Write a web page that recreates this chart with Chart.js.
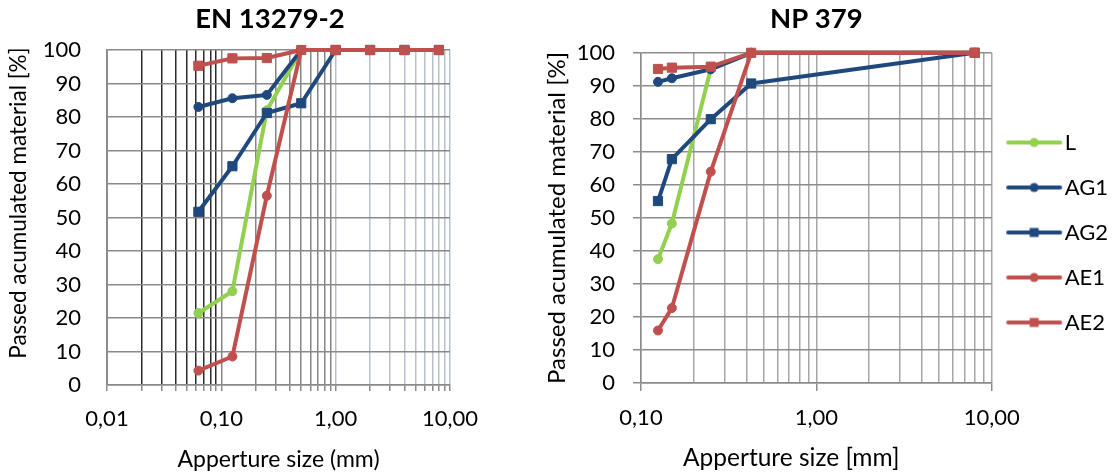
<!DOCTYPE html>
<html>
<head>
<meta charset="utf-8">
<script src="https://cdn.jsdelivr.net/npm/chart.js@4.4.1/dist/chart.umd.min.js"></script>
<style>
  html, body { margin: 0; padding: 0; background: #fff; overflow: hidden; }
  #wrap { position: relative; width: 1115px; height: 473px; }
  canvas { position: absolute; top: 0; }
  #enChart { left: 0; }
  #npChart { left: 530px; }
</style>
</head>
<body>
<div id="wrap">
  <canvas id="enChart" width="540" height="473"></canvas>
  <canvas id="npChart" width="588" height="473"></canvas>
</div>
<script>
// EN 13279-2 sieves (mm) and passed material (%)
const enSizes = [0.063, 0.125, 0.25, 0.5, 1, 2, 4, 8];
const enL   = [21.5, 28, 82, 100, 100, 100, 100, 100];
const enAG1 = [83, 85.6, 86.6, 100, 100, 100, 100, 100];
const enAG2 = [51.7, 65.3, 81.2, 84.1, 100, 100, 100, 100];
const enAE1 = [4.3, 8.5, 56.5, 100, 100, 100, 100, 100];
const enAE2 = [95.3, 97.5, 97.6, 100, 100, 100, 100, 100];

// NP 379 sieves (mm) and passed material (%)
const npSizes = [0.125, 0.15, 0.25, 0.425, 8];
const npL   = [37.5, 48.3, 95.2, 100, 100];
const npAG1 = [91.2, 92.3, 95, 100, 100];
const npAG2 = [55.1, 67.8, 79.9, 90.7, 100];
const npAE1 = [15.9, 22.7, 64, 100, 100];
const npAE2 = [95.1, 95.5, 95.8, 100, 100];

const seriesNames = ['L', 'AG1', 'AG2', 'AE1', 'AE2'];
const majorTicks = [0.01, 0.1, 1, 10];

const GREEN = '#92D050', BLUE = '#1F497D', RED = '#C0504D';
const styles = [
  { color: GREEN, point: 'circle', r: 4.5 },
  { color: BLUE,  point: 'circle', r: 4.5 },
  { color: BLUE,  point: 'rect',   r: 6.5 },
  { color: RED,   point: 'circle', r: 4.5 },
  { color: RED,   point: 'rect',   r: 6.5 }
];
const FONT = 'Lato';

function isMajor(v) {
  return majorTicks.some(m => Math.abs(m - v) < 1e-9);
}

function logGrid(min, max) {
  const vals = [];
  for (let e = Math.round(Math.log10(min)); e < Math.round(Math.log10(max)); e++) {
    for (let m = 1; m < 10; m++) vals.push(+(m * Math.pow(10, e)).toPrecision(3));
  }
  vals.push(max);
  return vals;
}

function makeDatasets(sizes, series) {
  return series.map((vals, i) => ({
    label: seriesNames[i],
    data: sizes.map((x, j) => ({ x: x, y: vals[j] })),
    borderColor: styles[i].color,
    backgroundColor: styles[i].color,
    borderWidth: 4,
    borderCapStyle: 'round',
    borderJoinStyle: 'round',
    pointStyle: styles[i].point,
    pointRadius: styles[i].r,
    pointBorderWidth: 1,
    pointBackgroundColor: styles[i].color,
    pointBorderColor: styles[i].color,
    order: series.length - i,
    clip: false,
    tension: 0
  }));
}

function legendIcon(st) {
  const c = document.createElement('canvas');
  c.width = 58; c.height = 14;
  const g = c.getContext('2d');
  g.strokeStyle = st.color; g.fillStyle = st.color;
  g.lineWidth = 4; g.lineCap = 'round';
  g.beginPath(); g.moveTo(3, 7); g.lineTo(55, 7); g.stroke();
  if (st.point === 'circle') {
    g.beginPath(); g.arc(29, 7, 4.5, 0, Math.PI * 2); g.fill();
  } else {
    g.fillRect(24.5, 2.5, 9, 9);
  }
  return c;
}
const legendIcons = styles.map(legendIcon);

// nudge the legend column up a little
const legendNudge = {
  id: 'legendNudge',
  afterLayout(chart) {
    if (chart.legend) { chart.legend.top -= 4; chart.legend.bottom -= 4; }
  }
};

const tickFont = { family: FONT, size: 22 };
const fmtTick = v => isMajor(v) ? v.toFixed(2).replace('.', ',') : '';

// ---- EN 13279-2 ----
new Chart(document.getElementById('enChart').getContext('2d'), {
  type: 'line',
  data: { datasets: makeDatasets(enSizes, [enL, enAG1, enAG2, enAE1, enAE2]) },
  options: {
    responsive: false, animation: false, devicePixelRatio: 1,
    layout: { padding: 0 },
    plugins: {
      legend: { display: false },
      tooltip: { enabled: false },
      title: {
        display: true, text: 'EN 13279-2', color: '#000',
        font: { family: FONT, size: 27.5, weight: 'bold' },
        padding: { top: 2.5, bottom: 14.5 }
      }
    },
    scales: {
      x: {
        type: 'logarithmic', min: 0.01, max: 10,
        afterBuildTicks: s => { s.ticks = logGrid(0.01, 10).map(v => ({ value: v })); },
        afterFit: s => { s.height = 88; s.paddingRight = 90; },
        ticks: { callback: fmtTick, autoSkip: false, maxRotation: 0, minRotation: 0,
                 color: '#000', font: tickFont, padding: 15 },
        grid: {
          lineWidth: 1.5, tickLength: 6, tickColor: '#8a8a8a',
          color: c => c.tick.value < 0.099 ? '#2b2b2b' : (c.tick.value < 0.99 ? '#858585' : '#b9c0cc')
        },
        border: { color: '#8a8a8a', width: 1.5 },
        title: { display: true, text: 'Apperture size (mm)', color: '#000',
                 font: { family: FONT, size: 23 }, padding: { top: 0, bottom: 0 } }
      },
      y: {
        min: 0, max: 100,
        afterFit: s => { s.width = 107; },
        ticks: { stepSize: 10, color: '#000', font: tickFont, padding: 26 },
        grid: { color: '#8a8a8a', lineWidth: 1.5, drawTicks: false },
        border: { color: '#8a8a8a', width: 1.5 },
        title: { display: true, text: '     Passed acumulated material [%]', color: '#000',
                 font: { family: FONT, size: 22.5 }, padding: { top: 5, bottom: 0 } }
      }
    }
  }
});

// ---- NP 379 ----
new Chart(document.getElementById('npChart').getContext('2d'), {
  type: 'line',
  data: { datasets: makeDatasets(npSizes, [npL, npAG1, npAG2, npAE1, npAE2]) },
  plugins: [legendNudge],
  options: {
    responsive: false, animation: false, devicePixelRatio: 1,
    layout: { padding: 0 },
    plugins: {
      tooltip: { enabled: false },
      title: {
        display: true, text: 'NP 379', color: '#000', fullSize: false,
        font: { family: FONT, size: 27.5, weight: 'bold' },
        padding: { top: 2.5, bottom: 17.3 }
      },
      legend: {
        position: 'right',
        labels: {
          usePointStyle: true, pointStyleWidth: 39, padding: 23,
          color: '#000', font: { family: FONT, size: 22 },
          generateLabels: chart => chart.data.datasets.map((ds, i) => ({
            text: ds.label, pointStyle: legendIcons[i], datasetIndex: i,
            fillStyle: ds.borderColor, strokeStyle: ds.borderColor,
            lineWidth: 0, hidden: false, fontColor: '#000'
          }))
        }
      }
    },
    scales: {
      x: {
        type: 'logarithmic', min: 0.1, max: 10,
        afterBuildTicks: s => { s.ticks = logGrid(0.1, 10).map(v => ({ value: v })); },
        afterFit: s => { s.height = 90; },
        ticks: { callback: fmtTick, autoSkip: false, maxRotation: 0, minRotation: 0,
                 color: '#000', font: tickFont, padding: 14 },
        grid: {
          lineWidth: 1.5, tickLength: 8, color: '#a6a6a6',
          tickColor: c => isMajor(c.tick.value) ? '#8c8c8c' : 'rgba(0,0,0,0)'
        },
        border: { color: '#8c8c8c', width: 1.5 },
        title: { display: true, text: 'Apperture size [mm]        ', color: '#000',
                 font: { family: FONT, size: 24.5 }, padding: { top: 0, bottom: 0 } }
      },
      y: {
        min: 0, max: 100,
        afterFit: s => { s.width = 111; },
        ticks: { stepSize: 10, color: '#000', font: tickFont, padding: 18 },
        grid: { color: '#8c8c8c', lineWidth: 1.5, tickLength: 8 },
        border: { color: '#8c8c8c', width: 1.5 },
        title: { display: true, text: 'Passed acumulated material [%]', color: '#000',
                 font: { family: FONT, size: 24 }, padding: { top: 12.6, bottom: 0 } }
      }
    }
  }
});
</script>
</body>
</html>
